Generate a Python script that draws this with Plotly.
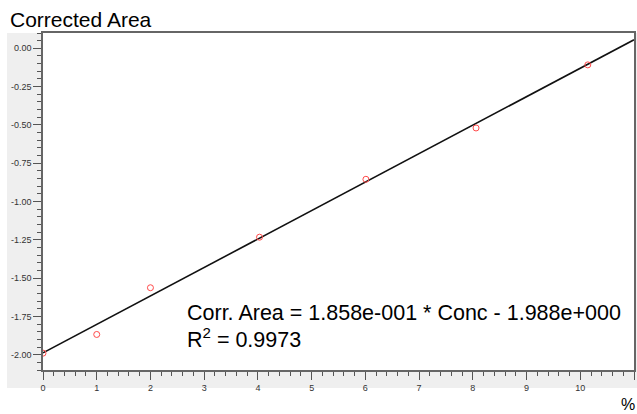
import plotly.graph_objects as go

# Data
conc = [0.0, 1.0, 2.0, 4.03, 6.01, 8.06, 10.14]
corr_area = [-1.99, -1.868, -1.563, -1.233, -0.855, -0.52, -0.108]
slope = 0.1858
intercept = -1.988
fit_x = [0.0, 11.0]
fit_y = [slope * v + intercept for v in fit_x]

x_ticks = list(range(0, 12))
y_ticks = [0.0, -0.25, -0.5, -0.75, -1.0, -1.25, -1.5, -1.75, -2.0]
y_labels = ["0.00", "-0.25", "-0.50", "-0.75", "-1.00", "-1.25", "-1.50", "-1.75", "-2.00"]

FONT = "Liberation Sans, Arial, sans-serif"

fig = go.Figure()
fig.add_trace(go.Scatter(x=fit_x, y=fit_y, mode="lines",
                         line=dict(color="#111111", width=1.6), hoverinfo="skip"))
fig.add_trace(go.Scatter(x=conc, y=corr_area, mode="markers",
                         marker=dict(symbol="circle-open", size=6, color="#ff4a4a",
                                     line=dict(width=1, color="#ff4a4a"))))

W, H = 637, 414
ml, mr, mt, mb = 43, 3, 33, 44
pw, ph = W - ml - mr, H - mt - mb

def px(xp):
    return (xp - ml) / pw

def py(yp):
    return (H - mb - yp) / ph

fig.update_layout(
    width=W, height=H,
    margin=dict(l=ml, r=mr, t=mt, b=mb),
    paper_bgcolor="white", plot_bgcolor="white",
    showlegend=False,
    font=dict(family=FONT, color="#333333"),
    shapes=[
        dict(type="rect", xref="paper", yref="paper",
             x0=px(7), x1=px(640), y0=py(388), y1=1,
             fillcolor="#efefef", line=dict(width=0), layer="below"),
        dict(type="rect", xref="paper", yref="paper",
             x0=0, x1=1, y0=0, y1=1,
             fillcolor="white", line=dict(width=0), layer="below"),
    ],
    annotations=[
        dict(text="Corrected Area", xref="paper", yref="paper", x=px(8), y=py(20),
             xanchor="left", yanchor="middle", showarrow=False,
             font=dict(family=FONT, size=21, color="#000000")),
        dict(text="Corr. Area = 1.858e-001 * Conc - 1.988e+000", xref="paper", yref="paper",
             x=px(185), y=py(313), xanchor="left", yanchor="middle", showarrow=False,
             font=dict(family=FONT, size=21.5, color="#000000")),
        dict(text="R<sup>2</sup> = 0.9973", xref="paper", yref="paper",
             x=px(185), y=py(338), xanchor="left", yanchor="middle", showarrow=False,
             font=dict(family=FONT, size=21.5, color="#000000")),
        dict(text="%", xref="paper", yref="paper", x=px(619), y=py(404),
             xanchor="left", yanchor="middle", showarrow=False,
             font=dict(family=FONT, size=16, color="#000000")),
    ],
)

fig.update_xaxes(range=[0, 11], tickmode="array", tickvals=x_ticks, automargin=False,
                 ticks="outside", ticklen=8, tickwidth=1, tickcolor="#555555",
                 minor=dict(ticks="outside", ticklen=4, dtick=0.2, tickcolor="#555555", tickwidth=1),
                 showline=True, linecolor="#666666", linewidth=1.5, mirror=True,
                 showgrid=False, zeroline=False,
                 tickfont=dict(family=FONT, size=9, color="#333333"))
fig.update_yaxes(range=[-2.1, 0.1], tickmode="array", tickvals=y_ticks, ticktext=y_labels,
                 automargin=False,
                 ticks="outside", ticklen=8, tickwidth=1, tickcolor="#555555",
                 minor=dict(ticks="outside", ticklen=4, dtick=0.05, tickcolor="#555555", tickwidth=1),
                 showline=True, linecolor="#666666", linewidth=1.5, mirror=True,
                 showgrid=False, zeroline=False,
                 tickfont=dict(family=FONT, size=9, color="#333333"))

fig.write_html("out.html", config={"displayModeBar": False},
               post_script="document.body.style.margin='0';document.body.style.overflow='hidden';")
